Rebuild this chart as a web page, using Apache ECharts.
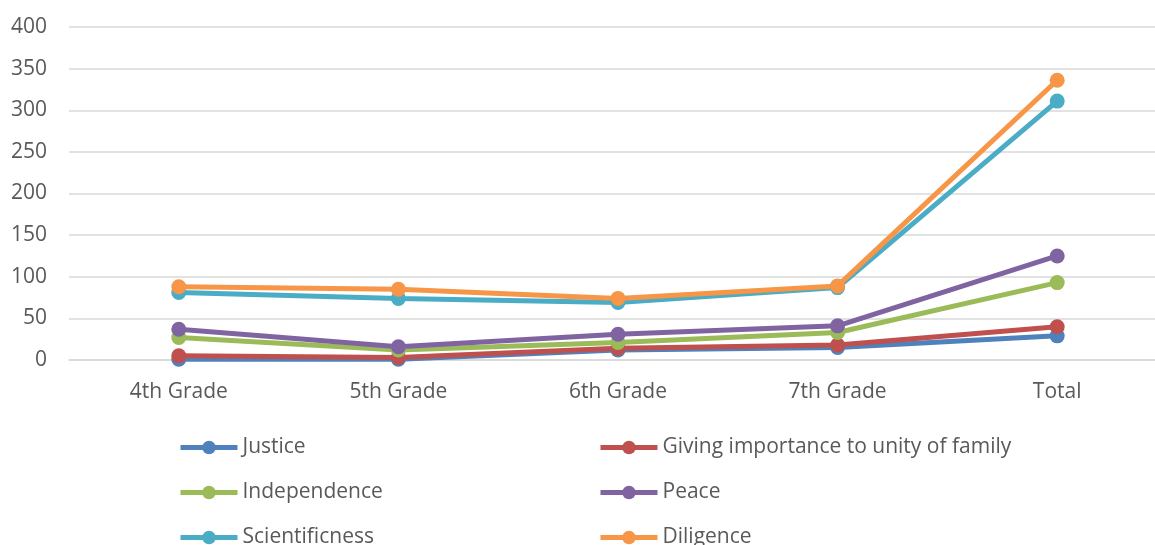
<!DOCTYPE html>
<html>
<head>
<meta charset="utf-8">
<script src="https://cdn.jsdelivr.net/npm/echarts@6/dist/echarts.min.js"></script>
<style>
  html, body { margin: 0; padding: 0; background: #fff; }
  #chart { width: 1155px; height: 545px; }
</style>
</head>
<body>
<div id="chart"></div>
<script>
const grades = ['4th Grade', '5th Grade', '6th Grade', '7th Grade', 'Total']

const justice = [1, 1, 12, 15, 29]
const family = [5, 3, 14, 18, 40]
const independence = [27, 12, 21, 33, 93]
const peace = [37, 16, 31, 41, 125]
const scientificness = [81, 74, 69, 87, 311]
const diligence = [88, 85, 74, 89, 336]

const seriesDefs = [
  { name: 'Justice', color: '#4F81BD', data: justice },
  { name: 'Giving importance to unity of family', color: '#C0504D', data: family },
  { name: 'Independence', color: '#9BBB59', data: independence },
  { name: 'Peace', color: '#8064A2', data: peace },
  { name: 'Scientificness', color: '#4BACC6', data: scientificness },
  { name: 'Diligence', color: '#F79646', data: diligence }
]

const font = '"Open Sans", Lato, sans-serif'
const textColor = '#595959'

const legendBase = {
  orient: 'vertical',
  top: 437,
  height: 200,
  padding: 0,
  itemWidth: 57,
  itemHeight: 17,
  itemGap: 24,
  lineStyle: { width: 5 },
  textStyle: { fontFamily: font, fontSize: 21, color: textColor }
}

const chart = echarts.init(document.getElementById('chart'))
chart.setOption({
  animation: false,
  textStyle: { fontFamily: font },
  grid: {
    left: 69,
    width: 1098,
    top: 27,
    bottom: 185,
    outerBoundsMode: 'none'
  },
  legend: [
    Object.assign({}, legendBase, {
      left: 178,
      data: ['Justice', 'Independence', 'Scientificness']
    }),
    Object.assign({}, legendBase, {
      left: 598,
      data: ['Giving importance to unity of family', 'Peace', 'Diligence']
    })
  ],
  xAxis: {
    type: 'category',
    data: grades,
    axisLine: { show: true, lineStyle: { color: '#d9d9d9', width: 1.5 } },
    axisTick: { show: false },
    axisLabel: { fontFamily: font, fontSize: 21, color: textColor, margin: 22 }
  },
  yAxis: {
    type: 'value',
    min: 0,
    max: 400,
    interval: 50,
    axisLine: { show: false },
    axisTick: { show: false },
    splitLine: { lineStyle: { color: '#d9d9d9', width: 1.5 } },
    axisLabel: { fontFamily: font, fontSize: 21, color: textColor, margin: 22 }
  },
  series: seriesDefs.map(s => ({
    name: s.name,
    type: 'line',
    data: s.data,
    symbol: 'circle',
    symbolSize: 15,
    lineStyle: { width: 5, color: s.color },
    itemStyle: { color: s.color }
  }))
})
</script>
</body>
</html>
